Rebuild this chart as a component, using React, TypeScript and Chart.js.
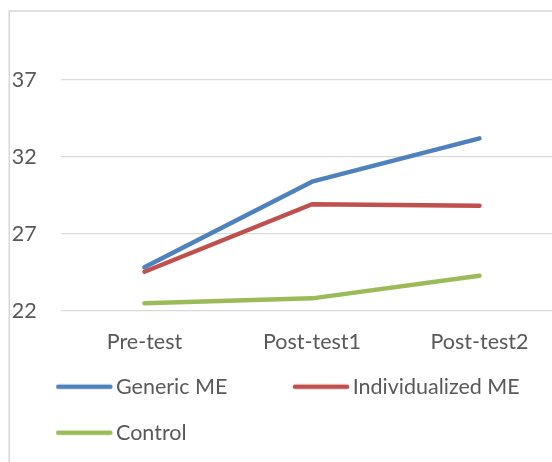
import React, { useEffect, useRef } from 'react';
import { Chart, registerables } from 'chart.js';

Chart.register(...registerables);

const categories = ['Pre-test', 'Post-test1', 'Post-test2'];
const seriesNames = ['Generic ME', 'Individualized ME', 'Control'];
const genericME = [24.84, 30.4, 33.21];
const individualizedME = [24.55, 28.93, 28.84];
const control = [22.5, 22.82, 24.29];
const yTickValues = [22, 27, 32, 37];
const yMin = 22;
const yMax = 42;

const seriesColors = ['#4F81BD', '#C0504D', '#9BBB59'];

const FONT_FAMILY = 'Lato, "Open Sans", sans-serif';
const TEXT_COLOR = '#595959';
const GRID_COLOR = '#d9d9d9';
const VIEW_H = 462;

// layout targets (page px)
const PLOT_LEFT = 60.7;
const PLOT_RIGHT = 563.25;
const PLOT_TOP = 3;
const PLOT_BOTTOM = 311;
const YLABEL_RIGHT = 36.7;
const XLABEL_MID = 342;
const LEG_TEXT1 = 116;
const LEG_TEXT2 = 352.7;
const LEG_ROW1_MID = 386.7;
const LEG_ROW_GAP = 46;
const LEG_LINE_START = 60;
const LEG_LINE_END = 3.3;
const LEG_LINE_W = 4.5;
const BORDER_X = 9.3;
const BORDER_Y = 11;

export default function App() {
  const ref = useRef<HTMLCanvasElement>(null);

  useEffect(() => {
    const canvas = ref.current!;
    document.documentElement.style.overflow = 'hidden';
    document.body.style.overflow = 'hidden';

    const mctx = document.createElement('canvas').getContext('2d')!;
    mctx.font = `100px ${FONT_FAMILY}`;
    const targets: [string, number][] = [
      ['Individualized ME', 168],
      ['Generic ME', 109],
      ['Control', 70.7],
      ['Pre-test', 75.6],
      ['Post-test1', 96.7],
    ];
    let sumM = 0;
    let sumT = 0;
    for (const [s, t] of targets) {
      sumM += mctx.measureText(s).width;
      sumT += t;
    }
    const fs = Math.round(((100 * sumT) / sumM) * 2) / 2;
    mctx.font = `${fs}px ${FONT_FAMILY}`;
    const w1 = mctx.measureText(seriesNames[0]).width;
    const pad = LEG_ROW_GAP - fs;
    const boxW = LEG_TEXT2 - LEG_TEXT1 - w1 - pad - fs / 2;
    const L = LEG_TEXT1 - boxW - fs / 2 - pad;
    const Lint = Math.floor(L);
    const cw = Math.ceil(PLOT_RIGHT - Lint + 16);

    const legendTop = LEG_ROW1_MID - pad - fs / 2;
    const legendH = 2 * (fs + pad) + 10;
    const padBottom = VIEW_H - legendTop - legendH;
    const xAxisH = legendTop - PLOT_BOTTOM;
    const xTickPad = XLABEL_MID - PLOT_BOTTOM - (fs * 1.2) / 2;

    canvas.width = cw;
    canvas.height = VIEW_H;
    canvas.style.position = 'fixed';
    canvas.style.left = `${Lint}px`;
    canvas.style.top = '0px';
    canvas.style.width = `${cw}px`;
    canvas.style.height = `${VIEW_H}px`;

    const Wi = Math.ceil(boxW + fs);
    const Hi = 12;
    const imgs = seriesColors.map((c) => {
      const cv = document.createElement('canvas');
      cv.width = Wi;
      cv.height = Hi;
      const g = cv.getContext('2d')!;
      const tx = fs / 2 + boxW / 2 + Wi / 2;
      g.strokeStyle = c;
      g.lineWidth = LEG_LINE_W;
      g.lineCap = 'round';
      g.beginPath();
      g.moveTo(tx - LEG_LINE_START + LEG_LINE_W / 2, Hi / 2);
      g.lineTo(tx - LEG_LINE_END - LEG_LINE_W / 2, Hi / 2);
      g.stroke();
      return cv;
    });

    const chartBorder = {
      id: 'chartBorder',
      beforeDraw(chart: any) {
        const c = chart.ctx;
        c.save();
        c.strokeStyle = '#d6d6d6';
        c.lineWidth = 1.5;
        c.beginPath();
        c.moveTo(BORDER_X - Lint, VIEW_H + 5);
        c.lineTo(BORDER_X - Lint, BORDER_Y);
        c.lineTo(chart.width + 5, BORDER_Y);
        c.stroke();
        c.restore();
      },
    };

    const font = { family: FONT_FAMILY, size: fs };
    const seriesData = [genericME, individualizedME, control];

    const chart = new Chart(canvas, {
      type: 'line',
      data: {
        labels: categories,
        datasets: seriesData.map((d, i) => ({
          label: seriesNames[i],
          data: d,
          borderColor: seriesColors[i],
          backgroundColor: seriesColors[i],
          borderWidth: 4.5,
          pointRadius: 0,
          borderCapStyle: 'round' as const,
          borderJoinStyle: 'round' as const,
          tension: 0,
        })),
      },
      options: {
        responsive: false,
        animation: false,
        devicePixelRatio: 1,
        layout: {
          padding: {
            left: L - Lint,
            right: cw - (PLOT_RIGHT - Lint),
            top: PLOT_TOP,
            bottom: padBottom,
          },
        },
        plugins: {
          tooltip: { enabled: false },
          legend: {
            position: 'bottom',
            align: 'start',
            labels: {
              usePointStyle: true,
              pointStyleWidth: boxW,
              boxHeight: fs,
              padding: pad,
              color: TEXT_COLOR,
              font,
              generateLabels: (ch: any) =>
                Chart.defaults.plugins.legend.labels
                  .generateLabels(ch)
                  .map((item: any, i: number) => ({ ...item, pointStyle: imgs[i] })),
            },
          },
        },
        scales: {
          x: {
            offset: true,
            grid: { display: false, drawTicks: false },
            border: { display: false },
            ticks: {
              color: TEXT_COLOR,
              font,
              padding: xTickPad,
              maxRotation: 0,
              autoSkip: false,
            },
            afterFit: (s: any) => {
              s.height = xAxisH;
              s.paddingLeft = 0;
              s.paddingRight = 0;
            },
          },
          y: {
            min: yMin,
            max: yMax,
            grid: { color: GRID_COLOR, lineWidth: 1.3, drawTicks: false },
            border: { display: false },
            ticks: { color: TEXT_COLOR, font, padding: PLOT_LEFT - YLABEL_RIGHT },
            afterBuildTicks: (s: any) => {
              s.ticks = yTickValues.map((v) => ({ value: v }));
            },
            afterFit: (s: any) => {
              s.width = PLOT_LEFT - L;
              s.paddingTop = 0;
              s.paddingBottom = 0;
            },
          },
        },
      },
      plugins: [chartBorder],
    } as any);

    return () => chart.destroy();
  }, []);

  return <canvas ref={ref} />;
}
